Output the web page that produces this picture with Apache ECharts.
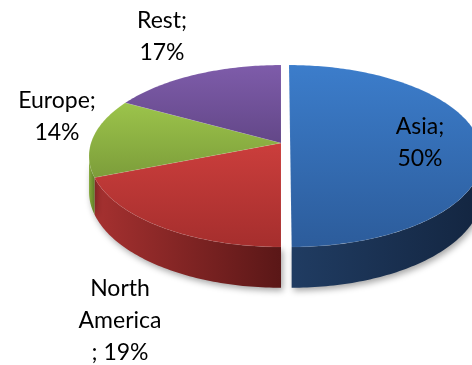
<!DOCTYPE html>
<html><head><meta charset="utf-8">
<script src="https://cdn.jsdelivr.net/npm/echarts@6/dist/echarts.min.js"></script>
<style>html,body{margin:0;padding:0;background:#fff}#c{width:472px;height:365px}</style>
</head><body><div id="c"></div>
<script>
// ---- data ----
const categories = ['Asia', 'North America', 'Europe', 'Rest'];
const shares = [50, 19, 14, 17];
const exploded = [true, false, false, false];

// ---- style / layout ----
const topColors = [['#3c7dcb', '#2c5c9b'], ['#cb3e3c', '#a52e2d'], ['#9cc44b', '#7c9d3a'], ['#7e5caa', '#634788']];
const sideColors = [['#203c62', '#132540'], ['#a63130', '#5a1717'], ['#86ab3e', '#5f7d26'], ['#5a3f80', '#3e2a5c']];
const labelAnchor = { 'Asia': [420, 143], 'North America': [120, 321], 'Europe': [57, 117], 'Rest': [162, 37] };
const geo = { cx: 281, cy: 143, A: 190, B: 89.1, p: 0.1429, depth: 35, explode: 0.048 };

function labelText(name, pct) {
  const parts = name.split(' ');
  if (parts.length > 1) return parts.join('\n') + '\n; ' + pct + '%';
  return name + ';\n' + pct + '%';
}

const total = shares.reduce((a, b) => a + b, 0);
const deg = Math.PI / 180;

function pt(u, v, drop) {
  const w = 1 - geo.p * v;
  return [geo.cx + geo.A * u / w, geo.cy + geo.B * v / w + drop * geo.depth / w];
}

const chart = echarts.init(document.getElementById('c'), null, { renderer: 'canvas' });
chart.setOption({
  animation: false,
  backgroundColor: '#ffffff',
  series: [{
    type: 'custom',
    coordinateSystem: 'none',
    data: categories.map((n, i) => ({ name: n, value: [shares[i]] })),
    renderItem: function (params, api) {
      const i = params.dataIndex;
      let before = 0;
      for (let k = 0; k < i; k++) before += shares[k];
      const val = api.value(0);
      const a1 = before / total * 360;
      const a2 = (before + val) / total * 360;
      const mid = (a1 + a2) / 2;
      const off = exploded[i] ? geo.explode : 0;
      const ou = off * Math.sin(mid * deg), ov = -off * Math.cos(mid * deg);
      const arc = (from, to, drop) => {
        const res = [];
        const n = Math.max(2, Math.ceil((to - from) / 1));
        for (let s = 0; s <= n; s++) {
          const t = (from + (to - from) * s / n) * deg;
          res.push(pt(ou + Math.sin(t), ov - Math.cos(t), drop));
        }
        return res;
      };
      const children = [];
      const sil = Math.asin(geo.p) / deg;
      const s1 = Math.max(a1, 90 + sil), s2 = Math.min(a2, 270 - sil);
      if (s2 > s1) {
        const topArc = arc(s1, s2, 0);
        const botArc = arc(s1, s2, 1).reverse();
        children.push({
          type: 'polygon', z2: 1,
          shape: { points: topArc.concat(botArc) },
          style: {
            fill: new echarts.graphic.LinearGradient(0, 0, 1, 0, [
              { offset: 0, color: sideColors[i][0] }, { offset: 1, color: sideColors[i][1] }]),
            shadowBlur: 6, shadowColor: 'rgba(0,0,0,0.35)', shadowOffsetX: 2, shadowOffsetY: 3
          }
        });
      }
      const topPts = [pt(ou, ov, 0)].concat(arc(a1, a2, 0));
      children.push({
        type: 'polygon', z2: 10,
        shape: { points: topPts },
        style: {
          fill: new echarts.graphic.LinearGradient(0, 0, 0, 1, [
            { offset: 0, color: topColors[i][0] }, { offset: 1, color: topColors[i][1] }]),
          stroke: 'rgba(255,255,255,0.15)', lineWidth: 0.5
        }
      });
      const name = categories[i];
      const pos = labelAnchor[name];
      children.push({
        type: 'text', z2: 20,
        style: {
          text: labelText(name, Math.round(val / total * 100)),
          x: pos[0], y: pos[1], align: 'center', verticalAlign: 'middle',
          font: '23px Lato', lineHeight: 32, fill: '#000000'
        }
      });
      return { type: 'group', children: children };
    }
  }]
});
</script></body></html>
